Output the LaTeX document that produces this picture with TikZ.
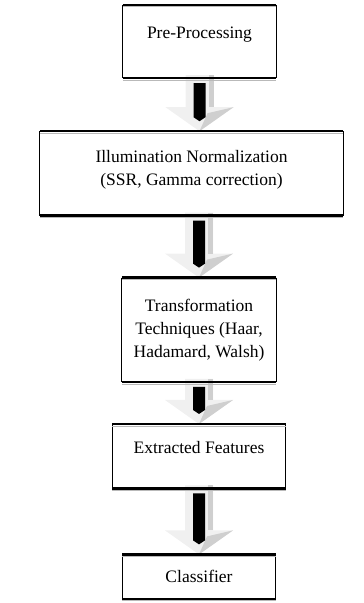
\documentclass[tikz,border=0pt]{standalone}
\usepackage{fontspec}
\setmainfont{Liberation Serif}
\usepackage{tikz}
\usetikzlibrary{positioning,calc}

\tikzset{
  stagebox/.style={inner sep=0pt, align=center, font=\fontsize{17.5}{23}\selectfont},
  sideline/.style={black, line width=0.8pt},
  edgeline/.style={black, line width=2.4pt},
  edgeshadow/.style={gray!55, line width=1pt},
  arrowlight/.style={fill=gray!12},
  arrowshade/.style={fill=gray!38}
}

% block arrow from #1 (box bottom) down to #2 (tip)
\newcommand{\flowarrow}[2]{%
  \coordinate (fa-s) at (#1);
  \coordinate (fa-e) at (#2);
  \fill[arrowlight] ($(fa-s)+(-14,3)$) -- ($(fa-e)+(-14,24)$) -- ($(fa-e)+(-34,24)$) -- (fa-e)
    -- ($(fa-e)+(34,24)$) -- ($(fa-e)+(14,24)$) -- ($(fa-s)+(14,3)$) -- cycle;
  \fill[arrowshade] ($(fa-s)+(9,3)$) -- ($(fa-e)+(9,24)$) -- ($(fa-e)+(14,24)$) -- ($(fa-s)+(14,3)$) -- cycle;
  \fill[arrowshade] (fa-e) -- ($(fa-e)+(34,24)$) -- ($(fa-e)+(8,18)$) -- cycle;
  \fill[black] ($(fa-s)+(-6,-5)$) -- ($(fa-e)+(-6,14)$) -- ($(fa-e)+(0,10)$)
    -- ($(fa-e)+(6,14)$) -- ($(fa-s)+(6,-5)$) -- cycle;
}

\begin{document}
\begin{tikzpicture}[x=1pt, y=1pt]
\useasboundingbox (0,0) rectangle (364,603);
\node[stagebox, minimum width=153pt, minimum height=73pt, text depth=17.8pt] (pre) at (199.5,561.5) {Pre-Processing};
\node[stagebox, minimum width=303pt, minimum height=84pt, text depth=11.4pt, below=53pt of pre, xshift=-8pt] (illum) {Illumination Normalization\\(SSR, Gamma correction)};
\node[stagebox, minimum width=154pt, minimum height=104pt, below=62pt of illum, xshift=7.5pt] (trans) {Transformation\\Techniques (Haar,\\Hadamard, Walsh)};
\node[stagebox, minimum width=173pt, minimum height=64pt, text depth=17pt, below=42pt of trans] (feat) {Extracted Features};
\node[stagebox, minimum width=153pt, minimum height=44pt, below=66pt of feat] (cls) {Classifier};
\flowarrow{pre.south}{pre.south |- illum.north}
\flowarrow{illum.south -| trans.north}{trans.north}
\flowarrow{trans.south}{feat.north}
\flowarrow{feat.south}{cls.north}
\foreach \n in {pre,illum,trans,feat,cls}{
  \draw[sideline] (\n.north west) -- (\n.south west) (\n.north east) -- (\n.south east);
  \draw[edgeshadow] ([yshift=-2.2pt]\n.north west) -- ([yshift=-2.2pt]\n.north east)
    ([yshift=-2.2pt]\n.south west) -- ([yshift=-2.2pt]\n.south east);
  \draw[edgeline] (\n.north west) -- (\n.north east) (\n.south west) -- (\n.south east);
}
\end{tikzpicture}
\end{document}
